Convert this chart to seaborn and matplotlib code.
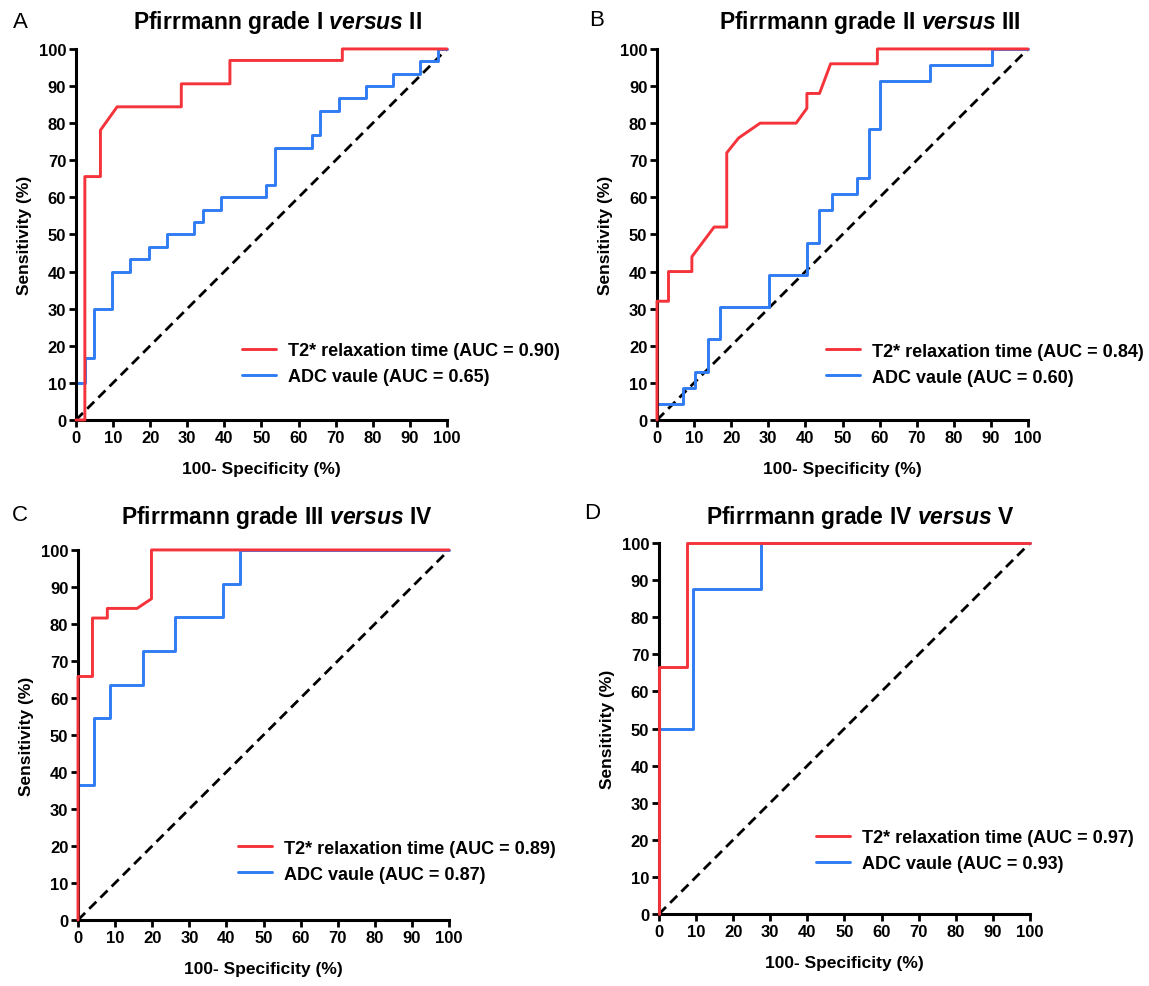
import numpy as np
import pandas as pd
import matplotlib
matplotlib.use('Agg')
import matplotlib.pyplot as plt
import seaborn as sns

# ROC points (x = 100-Specificity %, y = Sensitivity %)
# A: grade I vs II
a_t2_x = [0, 2.4, 2.4, 6.6, 6.6, 11.1, 28.4, 28.4, 41.5, 41.5, 71.8, 71.8, 100]
a_t2_y = [0, 0, 65.6, 65.6, 78.1, 84.4, 84.4, 90.6, 90.6, 96.9, 96.9, 100, 100]
a_adc_x = [0, 0, 2.4, 2.4, 4.8, 4.8, 9.8, 9.8, 14.7, 14.7, 19.7, 19.7, 24.6, 24.6,
           31.9, 31.9, 34.3, 34.3, 39.1, 39.1, 51.3, 51.3, 53.7, 53.7, 63.5, 63.5,
           65.7, 65.7, 70.9, 70.9, 78.1, 78.1, 85.5, 85.5, 92.6, 92.6, 97.7, 97.7, 100]
a_adc_y = [0, 10, 10, 16.7, 16.7, 30, 30, 40, 40, 43.3, 43.3, 46.7, 46.7, 50,
           50, 53.3, 53.3, 56.7, 56.7, 60, 60, 63.3, 63.3, 73.3, 73.3, 76.7,
           76.7, 83.3, 83.3, 86.7, 86.7, 90, 90, 93.3, 93.3, 96.7, 96.7, 100, 100]

# B: grade II vs III
b_t2_x = [0, 0, 3.1, 3.1, 9.4, 9.4, 15.4, 18.8, 18.8, 22.0, 27.8, 37.5, 40.4, 40.4,
          43.8, 46.8, 59.4, 59.4, 100]
b_t2_y = [0, 32, 32, 40, 40, 44, 52, 52, 72, 76, 80, 80, 84, 88,
          88, 96, 96, 100, 100]
b_adc_x = [0, 0, 7.0, 7.0, 10.3, 10.3, 13.7, 13.7, 17.0, 17.0, 30.3, 30.3, 40.4, 40.4,
           43.7, 43.7, 47.1, 47.1, 53.8, 53.8, 57.1, 57.1, 60.1, 60.1, 73.7, 73.7,
           90.3, 90.3, 100]
b_adc_y = [0, 4.3, 4.3, 8.7, 8.7, 13, 13, 21.7, 21.7, 30.4, 30.4, 39.1, 39.1, 47.8,
           47.8, 56.5, 56.5, 60.9, 60.9, 65.2, 65.2, 78.3, 78.3, 91.3, 91.3, 95.7,
           95.7, 100, 100]

# C: grade III vs IV
c_t2_x = [0, 0, 3.9, 3.9, 7.9, 7.9, 15.9, 19.8, 19.8, 100]
c_t2_y = [0, 65.8, 65.8, 81.6, 81.6, 84.2, 84.2, 86.8, 100, 100]
c_adc_x = [0, 0, 4.2, 4.2, 8.5, 8.5, 17.4, 17.4, 26.1, 26.1, 39.1, 39.1, 43.6, 43.6, 100]
c_adc_y = [0, 36.4, 36.4, 54.5, 54.5, 63.6, 63.6, 72.7, 72.7, 81.8, 81.8, 90.9, 90.9, 100, 100]

# D: grade IV vs V
d_t2_x = [0, 0, 7.6, 7.6, 100]
d_t2_y = [0, 66.7, 66.7, 100, 100]
d_adc_x = [0, 0, 9.1, 9.1, 27.4, 27.4, 100]
d_adc_y = [0, 50, 50, 87.5, 87.5, 100, 100]

panel_letters = ['A', 'B', 'C', 'D']
titles = ['Pfirrmann grade I $\\mathit{versus}$ II',
          'Pfirrmann grade II $\\mathit{versus}$ III',
          'Pfirrmann grade III $\\mathit{versus}$ IV',
          'Pfirrmann grade IV $\\mathit{versus}$ V']
auc_t2 = ['0.90', '0.84', '0.89', '0.97']
auc_adc = ['0.65', '0.60', '0.87', '0.93']
ticks = list(range(0, 101, 10))

RED = '#f5333b'
BLUE = '#2f7cf5'

sns.set_style('ticks')
plt.rcParams['font.family'] = ['Liberation Sans', 'DejaVu Sans']
plt.rcParams['font.weight'] = 'bold'
plt.rcParams['axes.labelweight'] = 'bold'
plt.rcParams['mathtext.fontset'] = 'custom'
plt.rcParams['mathtext.it'] = 'Liberation Sans:italic:bold'
plt.rcParams['mathtext.rm'] = 'Liberation Sans:bold'
for key in ['text.color', 'axes.labelcolor', 'xtick.color', 'ytick.color']:
    plt.rcParams[key] = 'black'

fig = plt.figure(figsize=(11.49, 9.87), dpi=100)

# axes boxes in figure fractions
boxes = [
    [0.0661, 0.5735, 0.3229, 0.3759],
    [0.5718, 0.5735, 0.3229, 0.3759],
    [0.0679, 0.0669, 0.3229, 0.3749],
    [0.5735, 0.0729, 0.3229, 0.3759],
]
title_x = [0.543, 0.575, 0.537, 0.542]
title_y = [1.075, 1.075, 1.09, 1.072]
legend_pos = [(0.447, 0.151), (0.456, 0.150), (0.431, 0.159), (0.423, 0.170)]
letter_pos = [(0.0174, 0.9767), (0.519, 0.979), (0.0174, 0.478), (0.515, 0.480)]

curves = [
    (a_t2_x, a_t2_y, a_adc_x, a_adc_y),
    (b_t2_x, b_t2_y, b_adc_x, b_adc_y),
    (c_t2_x, c_t2_y, c_adc_x, c_adc_y),
    (d_t2_x, d_t2_y, d_adc_x, d_adc_y),
]

for i, (t2x, t2y, adcx, adcy) in enumerate(curves):
    ax = fig.add_axes(boxes[i])
    # reference diagonal
    ax.plot([0, 100], [0, 100], color='black', lw=2.0, ls=(0, (3.6, 2.1)), zorder=1)
    sns.lineplot(x=t2x, y=t2y, sort=False, estimator=None, color=RED, lw=2.1,
                 ax=ax, label=f'T2* relaxation time (AUC = {auc_t2[i]})', zorder=3)
    sns.lineplot(x=adcx, y=adcy, sort=False, estimator=None, color=BLUE, lw=2.1,
                 ax=ax, label=f'ADC vaule (AUC = {auc_adc[i]})', zorder=2)
    for ln in ax.lines:
        ln.set_clip_on(False)

    ax.set_xlim(0, 100)
    ax.set_ylim(0, 100)
    ax.set_xticks(ticks)
    ax.set_yticks(ticks)
    ax.tick_params(direction='out', length=5, width=2.0, labelsize=12, pad=2)
    for lab in ax.get_xticklabels() + ax.get_yticklabels():
        lab.set_fontweight('bold')
    for s in ['top', 'right']:
        ax.spines[s].set_visible(False)
    for s in ['left', 'bottom']:
        ax.spines[s].set_linewidth(2.2)
        ax.spines[s].set_color('black')

    ax.set_xlabel('100- Specificity (%)', fontsize=12.5, labelpad=12)
    ax.set_ylabel('Sensitivity (%)', fontsize=12.5, labelpad=5)
    ax.text(title_x[i], title_y[i], titles[i], transform=ax.transAxes,
            ha='center', va='center', fontsize=16.5, fontweight='bold')

    leg = ax.legend(loc='center left', bbox_to_anchor=legend_pos[i], frameon=False,
                    fontsize=13, handlelength=1.9, handletextpad=0.65,
                    labelspacing=0.5, borderpad=0, borderaxespad=0)
    for t in leg.get_texts():
        t.set_fontweight('bold')

    fig.text(letter_pos[i][0], letter_pos[i][1], panel_letters[i],
             fontsize=16, fontweight='normal', ha='center', va='center')

fig.savefig('out.png', dpi=100)
